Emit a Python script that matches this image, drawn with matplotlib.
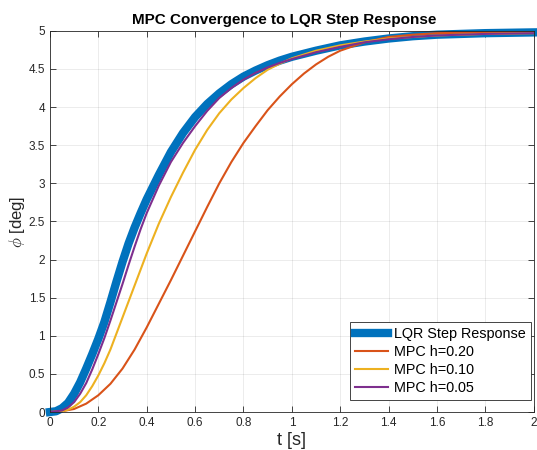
import numpy as np
import matplotlib
matplotlib.use('Agg')
import matplotlib.pyplot as plt

plt.rcParams['font.family'] = ['Liberation Sans', 'DejaVu Sans']
plt.rcParams['mathtext.fontset'] = 'cm'

## 데이터
t_lqr = [0, 0.025, 0.05, 0.075, 0.1, 0.125, 0.15, 0.175, 0.2, 0.225, 0.25, 0.275, 0.3,
         0.325, 0.35, 0.375, 0.4, 0.45, 0.5, 0.55, 0.6, 0.65, 0.7, 0.75, 0.8, 0.85, 0.9,
         0.95, 1.0, 1.1, 1.2, 1.3, 1.4, 1.5, 1.6, 1.8, 2.0]
phi_lqr = [0, 0.01, 0.05, 0.12, 0.24, 0.39, 0.57, 0.76, 0.96, 1.18, 1.44, 1.71, 1.97,
           2.21, 2.42, 2.61, 2.79, 3.11, 3.41, 3.66, 3.87, 4.04, 4.18, 4.3, 4.4, 4.48, 4.55,
           4.61, 4.66, 4.74, 4.81, 4.86, 4.9, 4.93, 4.95, 4.97, 4.98]

t_h05 = [0, 0.05, 0.075, 0.1, 0.125, 0.15, 0.175, 0.2, 0.225, 0.25, 0.275, 0.3, 0.325,
         0.35, 0.375, 0.4, 0.45, 0.5, 0.55, 0.6, 0.65, 0.7, 0.75, 0.8, 0.85, 0.9, 0.95,
         1.0, 1.1, 1.2, 1.3, 1.4, 1.5, 1.6, 1.8, 2.0]
phi_h05 = [0, 0.02, 0.06, 0.13, 0.24, 0.38, 0.56, 0.76, 0.97, 1.2, 1.44, 1.68, 1.93,
           2.17, 2.4, 2.61, 2.97, 3.28, 3.53, 3.75, 3.95, 4.12, 4.25, 4.36, 4.45, 4.52, 4.58,
           4.63, 4.72, 4.79, 4.85, 4.89, 4.92, 4.94, 4.96, 4.97]

t_h10 = [0, 0.05, 0.075, 0.1, 0.125, 0.15, 0.175, 0.2, 0.225, 0.25, 0.275, 0.3, 0.325,
         0.35, 0.375, 0.4, 0.45, 0.5, 0.55, 0.6, 0.65, 0.7, 0.75, 0.8, 0.85, 0.9, 0.95,
         1.0, 1.1, 1.2, 1.3, 1.4, 1.5, 1.6, 1.8, 2.0]
phi_h10 = [0, 0.01, 0.03, 0.07, 0.13, 0.22, 0.34, 0.48, 0.64, 0.82, 1.03, 1.24, 1.45,
           1.66, 1.87, 2.08, 2.47, 2.82, 3.14, 3.44, 3.7, 3.92, 4.1, 4.25, 4.38, 4.49, 4.57,
           4.64, 4.74, 4.81, 4.86, 4.9, 4.92, 4.94, 4.96, 4.97]

t_h20 = [0, 0.05, 0.1, 0.15, 0.2, 0.25, 0.3, 0.35, 0.4, 0.45, 0.5, 0.55, 0.6, 0.65,
         0.7, 0.75, 0.8, 0.85, 0.9, 0.95, 1.0, 1.05, 1.1, 1.15, 1.2, 1.3, 1.4, 1.5,
         1.6, 1.8, 2.0]
phi_h20 = [0, 0.01, 0.04, 0.11, 0.22, 0.37, 0.57, 0.82, 1.11, 1.42, 1.73, 2.05, 2.37, 2.69,
           3.0, 3.28, 3.53, 3.75, 3.96, 4.14, 4.3, 4.44, 4.56, 4.66, 4.74, 4.85, 4.92, 4.95,
           4.97, 4.98, 4.99]

c_blue = (0, 0.447, 0.741)
c_orange = (0.85, 0.325, 0.098)
c_yellow = (0.929, 0.694, 0.125)
c_purple = (0.494, 0.184, 0.556)
c_dark = (0.15, 0.15, 0.15)

fig = plt.figure(figsize=(5.37, 4.5), dpi=100)
ax = fig.add_axes([0.093, 0.0844, 0.901, 0.847])

ax.plot(t_lqr, phi_lqr, color=c_blue, lw=6, label='LQR Step Response', clip_on=False)
ax.plot(t_h20, phi_h20, color=c_orange, lw=1.5, label='MPC h=0.20')
ax.plot(t_h10, phi_h10, color=c_yellow, lw=1.5, label='MPC h=0.10')
ax.plot(t_h05, phi_h05, color=c_purple, lw=1.5, label='MPC h=0.05')

ax.set_xlim(0, 2)
ax.set_ylim(0, 5)
ax.set_xticks(np.arange(0, 2.01, 0.2))
ax.set_xticklabels(['0', '0.2', '0.4', '0.6', '0.8', '1', '1.2', '1.4', '1.6', '1.8', '2'])
ax.set_yticks(np.arange(0, 5.01, 0.5))
ax.set_yticklabels(['0', '0.5', '1', '1.5', '2', '2.5', '3', '3.5', '4', '4.5', '5'])

ax.grid(True, color=c_dark, alpha=0.1, lw=0.6)
ax.tick_params(direction='in', top=True, right=True, length=4, width=0.6,
               color=c_dark, labelcolor=c_dark, labelsize=8.5)
for s in ax.spines.values():
    s.set_color(c_dark)
    s.set_linewidth(0.6)

ax.set_title('MPC Convergence to LQR Step Response', fontsize=11, fontweight='bold',
             pad=5, x=0.485)
ax.set_xlabel('t [s]', fontsize=13, color=c_dark, labelpad=2)
ax.set_ylabel(r'$\phi$ [deg]', fontsize=12, color=c_dark, labelpad=1)

leg = ax.legend(loc='lower right', bbox_to_anchor=(0.994, 0.031), fontsize=10.4,
                handlelength=2.3, handletextpad=0.4, borderpad=0.35, labelspacing=0.28,
                fancybox=False, framealpha=1, borderaxespad=0)
leg.get_frame().set_edgecolor(c_dark)
leg.get_frame().set_linewidth(0.6)

plt.savefig('out.png', dpi=100)
